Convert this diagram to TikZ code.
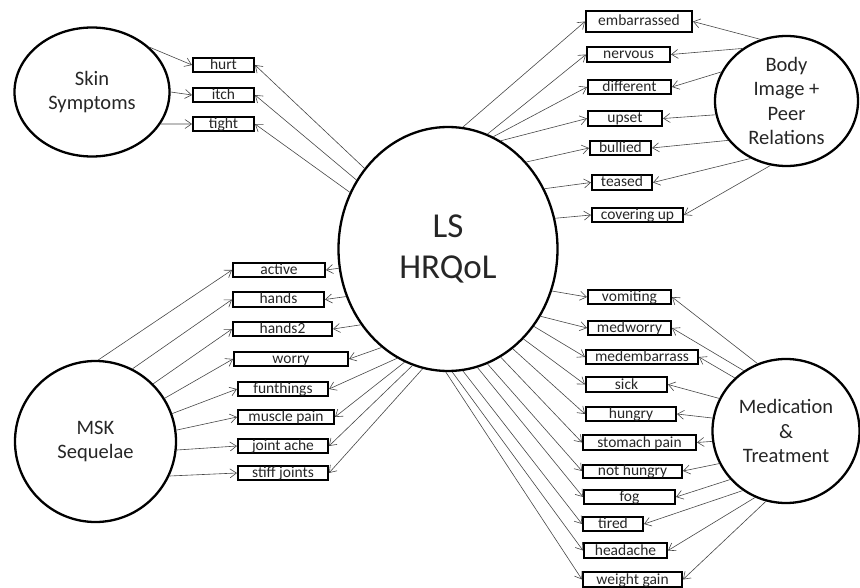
\documentclass[tikz,border=0pt]{standalone}
\usepackage{fontspec}
\setmainfont{Carlito}
\usetikzlibrary{shapes.geometric,arrows.meta}

\begin{document}
\begin{tikzpicture}[x=1pt,y=-1pt,
  >={Straight Barb[length=6.5pt,width=9pt]},
  factor/.style={draw,ellipse,line width=2.3pt,align=center,inner sep=0pt,
    text=black!85,font=\fontsize{20.5}{24.5}\selectfont},
  item/.style={draw,line width=2pt,inner sep=0pt,minimum height=14.5pt,
    text height=10pt,text depth=1pt,text=black!85,font=\fontsize{15.5}{15.5}\selectfont},
  conn/.style={->,line width=0.6pt,color=black!72}]

\useasboundingbox (0,0) rectangle (860,588);

%latent factors
\node[factor,minimum width=155pt,minimum height=129pt] (skin) at (92,92) {Skin\\Symptoms};
\node[factor,minimum width=143pt,minimum height=130pt] (body) at (786.5,101) {Body\\Image +\\Peer\\Relations};
\node[factor,minimum width=219pt,minimum height=244pt,font=\fontsize{35}{41}\selectfont] (ls) at (448,249) {LS\\HRQoL};
\node[factor,minimum width=161pt,minimum height=161pt] (msk) at (95.5,441.5) {MSK\\Sequelae};
\node[factor,minimum width=147pt,minimum height=144pt] (med) at (786,431) {Medication\\\&\\Treatment};

%items, skin
\node[item,minimum width=61pt] (hurt) at (223.5,65) {hurt};
\node[item,minimum width=61pt] (itch) at (223.5,95) {itch};
\node[item,minimum width=61pt] (tight) at (223.5,124) {tight};

%items, msk
\node[item,minimum width=92pt] (active) at (279,270) {active};
\node[item,minimum width=91pt] (hands) at (278.5,299.5) {hands};
\node[item,minimum width=99pt] (handsii) at (282.5,329) {hands2};
\node[item,minimum width=114pt] (worry) at (291,359) {worry};
\node[item,minimum width=90pt] (funthings) at (283,389) {funthings};
\node[item,minimum width=96pt] (musclepain) at (286,417) {muscle pain};
\node[item,minimum width=90pt] (jointache) at (283,446) {joint ache};
\node[item,minimum width=90pt] (stiffjoints) at (283,473) {stiff joints};

%items, body image
\node[item,minimum width=106pt,minimum height=21pt] (embarrassed) at (639,21.5) {embarrassed};
\node[item,minimum width=83pt] (nervous) at (628.5,54.5) {nervous};
\node[item,minimum width=83pt] (different) at (629.5,87) {different};
\node[item,minimum width=74pt] (upset) at (625,118.5) {upset};
\node[item,minimum width=61pt] (bullied) at (620.5,148) {bullied};
\node[item,minimum width=60pt] (teased) at (622,182.5) {teased};
\node[item,minimum width=91pt] (coveringup) at (637.5,215) {covering up};

%items, medication
\node[item,minimum width=83pt] (vomiting) at (629.5,297) {vomiting};
\node[item,minimum width=83pt] (medworry) at (629.5,328) {medworry};
\node[item,minimum width=112pt] (medembarrass) at (642,357) {medembarrass};
\node[item,minimum width=81pt] (sick) at (626.5,384.5) {sick};
\node[item,minimum width=90pt] (hungry) at (631,414) {hungry};
\node[item,minimum width=113pt] (stomachpain) at (639.5,442.5) {stomach pain};
\node[item,minimum width=99pt,minimum height=13pt] (nothungry) at (632.5,471) {not hungry};
\node[item,minimum width=91pt] (fog) at (629.5,497) {fog};
\node[item,minimum width=60pt] (tired) at (613,524) {tired};
\node[item,minimum width=83pt] (headache) at (625.5,550.5) {headache};
\node[item,minimum width=99pt] (weightgain) at (632.5,579.5) {weight gain};

%factor to its items
\foreach \b/\a in {hurt/38,itch/0,tight/-25}
  \draw[conn] (skin.\a) -- (\b.west);
\foreach \b/\a in {active/88,hands/63,handsii/45,worry/32,funthings/20,musclepain/8,jointache/-6,stiffjoints/-25}
  \draw[conn] (msk.\a) -- (\b.west);
\foreach \b/\a in {embarrassed/113,nervous/130,different/156,upset/191,bullied/214,teased/238,coveringup/256}
  \draw[conn] (body.\a) -- (\b.east);
\foreach \b/\a in {vomiting/113,medworry/125,medembarrass/134,sick/154,hungry/170,stomachpain/188,nothungry/206,fog/221,tired/234,headache/245,weightgain/254}
  \draw[conn] (med.\a) -- (\b.east);

%general factor to every item
\foreach \b/\a in {hurt/136,itch/143,tight/150,active/190,hands/205,handsii/221,worry/236,funthings/245,musclepain/249,jointache/253,stiffjoints/258}
  \draw[conn] (ls.\a) -- (\b.east);
\foreach \b/\a in {embarrassed/83,nervous/71,different/68,upset/64,bullied/48,teased/32,coveringup/16,vomiting/-22,medworry/-36,medembarrass/-42,sick/-50,hungry/-57,stomachpain/-64,nothungry/-71,fog/-76,tired/-83,headache/-88,weightgain/-91}
  \draw[conn] (ls.\a) -- (\b.west);

\end{tikzpicture}
\end{document}
